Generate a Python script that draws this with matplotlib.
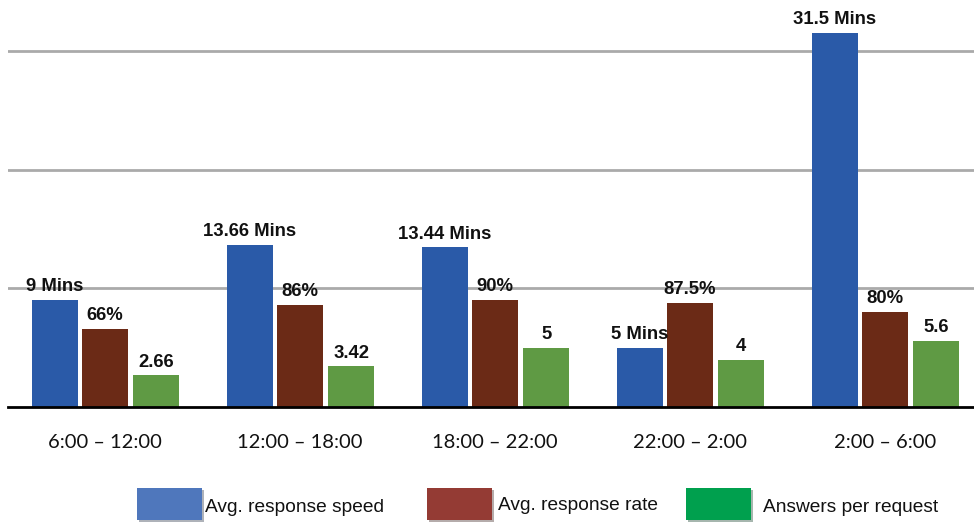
import matplotlib
matplotlib.use("Agg")
import matplotlib.pyplot as plt
import matplotlib.patheffects as pe
from matplotlib.patches import Rectangle
import numpy as np

categories = ["6:00 – 12:00", "12:00 – 18:00", "18:00 – 22:00", "22:00 – 2:00", "2:00 – 6:00"]
speed_mins = [9, 13.66, 13.44, 5, 31.5]
response_rate_pct = [66, 86, 90, 87.5, 80]
answers_per_request = [2.66, 3.42, 5, 4, 5.6]
series_names = ["Avg. response speed", "Avg. response rate", "Answers per request"]

bar_colors = ["#2A5AA8", "#6B2A16", "#5F9A44"]
legend_colors = ["#4F77BC", "#943B34", "#00A04E"]

W, H = 974, 523
fig = plt.figure(figsize=(W / 100, H / 100), dpi=100)
ax = fig.add_axes([8 / W, (H - 407) / H, 966 / W, 407 / H])

x = np.arange(len(categories))
width = 0.236
offsets = [-0.258, 0.0, 0.262]

# the rate series shares the minutes axis at one tenth of its percent value
plotted = [speed_mins, [v / 10 for v in response_rate_pct], answers_per_request]
labels = [[f"{v:g} Mins" for v in speed_mins],
          [f"{v:g}%" for v in response_rate_pct],
          [f"{v:g}" for v in answers_per_request]]

for vals, labs, off, col in zip(plotted, labels, offsets, bar_colors):
    bars = ax.bar(x + off, vals, width=width, color=col, zorder=3)
    for b, lab in zip(bars, labs):
        ax.annotate(lab, (b.get_x() + b.get_width() / 2, b.get_height()),
                    xytext=(0, 3.5), textcoords="offset points",
                    ha="center", va="bottom", fontsize=13.3, fontweight="bold",
                    family="Liberation Sans", color="#111111", zorder=4)

ax.set_xlim(-0.497, 4.456)
ax.set_ylim(0, 407 / 11.87)
ax.set_yticks([10, 20, 30])
ax.yaxis.grid(True, color="#AAAAAA", linewidth=2)
ax.tick_params(axis="y", left=False, labelleft=False)
ax.tick_params(axis="x", bottom=False, pad=16)
ax.set_xticks(x)
ax.set_xticklabels(categories, fontsize=14.5, family="Lato", color="#111111")
for s in ["top", "right", "left"]:
    ax.spines[s].set_visible(False)
ax.spines["bottom"].set_color("black")
ax.spines["bottom"].set_linewidth(2)
ax.spines["bottom"].set_zorder(5)

# legend swatches and names along the bottom
patch_x = [137, 427, 686]
text_x = [205, 498, 763]
text_y = [507, 505, 508]
for px, tx, ty, col, name in zip(patch_x, text_x, text_y, legend_colors, series_names):
    r = Rectangle((px / W, (H - 520) / H), 65 / W, 32 / H, transform=fig.transFigure,
                  facecolor=col, edgecolor="none",
                  path_effects=[pe.SimplePatchShadow(offset=(1.5, -1.5), alpha=0.35), pe.Normal()])
    fig.add_artist(r)
    fig.text(tx / W, (H - ty) / H, name, fontsize=13.8, family="Liberation Sans",
             ha="left", va="center", color="#111111")

fig.savefig("out.png", dpi=100)
